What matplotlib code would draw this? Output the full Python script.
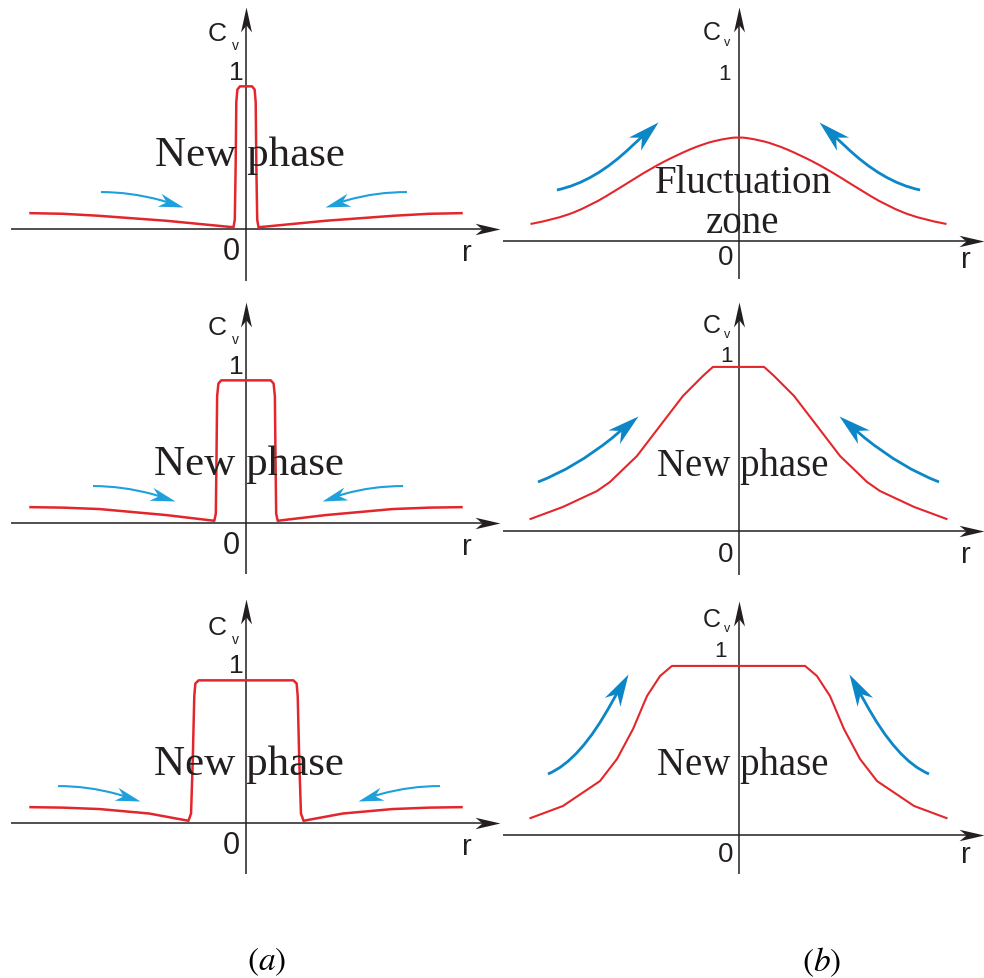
import numpy as np
import matplotlib
matplotlib.use("Agg")
import matplotlib.pyplot as plt
from matplotlib.path import Path
from matplotlib.patches import PathPatch
from matplotlib.markers import MarkerStyle
from matplotlib.transforms import Affine2D

plt.rcParams['mathtext.fontset'] = 'stix'

W, H, DPI = 984, 979, 100
AXIS_COLOR = '#231f20'
RED = '#e3262b'
BLUE_A = '#1ea0dc'
BLUE_B = '#0b86c7'
SANS = 'Liberation Sans'
SERIF = 'Liberation Serif'

# ---- C_v(r) half-profiles, listed from r = 0 outward (each profile is symmetric) ----
# column (a): sharp interface, new phase grows in width
a1_r = [0.0, 0.028, 0.040, 0.045, 0.048, 0.052, 0.058, 0.37, 0.69, 0.85, 1.0]
a1_c = [0.90, 0.90, 0.88, 0.80, 0.40, 0.06, 0.011, 0.052, 0.084, 0.096, 0.100]
a2_r = [0.0, 0.115, 0.128, 0.134, 0.137, 0.140, 0.147, 0.37, 0.68, 0.85, 1.0]
a2_c = [0.90, 0.90, 0.88, 0.80, 0.40, 0.06, 0.014, 0.050, 0.088, 0.097, 0.100]
a3_r = [0.0, 0.220, 0.235, 0.240, 0.247, 0.255, 0.267, 0.45, 0.68, 0.85, 1.0]
a3_c = [0.90, 0.90, 0.88, 0.80, 0.40, 0.06, 0.014, 0.060, 0.088, 0.097, 0.100]
# column (b): diffuse fluctuation grows into a new phase
b1_r = [0.0, 0.075, 0.171, 0.296, 0.425, 0.555, 0.714, 0.873, 1.0]
b1_c = [0.612, 0.600, 0.571, 0.506, 0.424, 0.324, 0.206, 0.129, 0.100]
b2_r = [0.0, 0.123, 0.171, 0.267, 0.363, 0.488, 0.618, 0.680, 0.844, 1.0]
b2_c = [0.927, 0.927, 0.876, 0.763, 0.616, 0.424, 0.277, 0.226, 0.136, 0.068]
b3_r = [0.0, 0.320, 0.377, 0.440, 0.507, 0.584, 0.666, 0.844, 1.0]
b3_c = [0.909, 0.909, 0.855, 0.747, 0.570, 0.409, 0.290, 0.156, 0.091]

# ---- flow arrows: (start, mid, neck, tip) points in (r, C_v) ----
a_arrow_c = [0.233, 0.221, 0.183, 0.139]
a1_left_r = [-0.673, -0.538, -0.399, -0.292]
a1_right_r = [0.747, 0.607, 0.473, 0.367]
a2_left_r = [-0.710, -0.575, -0.436, -0.329]
a2_right_r = [0.729, 0.589, 0.455, 0.353]
a3_left_r = [-0.872, -0.736, -0.599, -0.492]
a3_right_r = [0.900, 0.763, 0.626, 0.520]
# column (b) arrows: left one listed, right one is its mirror image
b1_arrow_r = [-0.873, -0.692, -0.512, -0.387]
b1_arrow_c = [0.300, 0.388, 0.559, 0.700]
b2_arrow_r = [-0.964, -0.786, -0.608, -0.483]
b2_arrow_c = [0.277, 0.379, 0.525, 0.650]
b3_arrow_r = [-0.916, -0.762, -0.608, -0.531]
b3_arrow_c = [0.328, 0.460, 0.715, 0.866]

y_label = 'C'
y_sub = 'v'
x_label = 'r'
tick_one = '1'
tick_zero = '0'


def mirror(r, c):
    r = np.asarray(r, float)
    c = np.asarray(c, float)
    return (np.concatenate([-r[::-1], r[1:]]),
            np.concatenate([c[::-1], c[1:]]))


fig = plt.figure(figsize=(W / DPI, H / DPI), dpi=DPI)
fig.patch.set_facecolor('white')


def make_panel(L, T, w, h, ox, oy, sx, sy):
    ax = fig.add_axes([L / W, 1 - (T + h) / H, w / W, h / H])
    ax.set_xlim((L - ox) / sx, (L + w - ox) / sx)
    ax.set_ylim((oy - (T + h)) / sy, (oy - T) / sy)
    ax.axis('off')
    return ax


def head(ax, base, tip, color, head_px, ratio, notch=0.72, z=5):
    d = ax.transData.transform([base, tip])
    ang = np.degrees(np.arctan2(d[1, 1] - d[0, 1], d[1, 0] - d[0, 0]))
    verts = [(0, 0), (-1, ratio), (-notch, 0), (-1, -ratio), (0, 0)]
    p = Path(verts, [Path.MOVETO, Path.LINETO, Path.LINETO, Path.LINETO, Path.CLOSEPOLY])
    ms = head_px * 72.0 / DPI * 2
    ax.plot([tip[0]], [tip[1]], linestyle='none',
            marker=MarkerStyle(p, transform=Affine2D().rotate_deg(ang)),
            ms=ms, mew=0, color=color, clip_on=False, zorder=z)


def flow_arrow(ax, rs, cs, color, lw, head_px, ratio):
    pts = np.column_stack([rs, cs]).astype(float)
    s, m, n, t = pts
    ctrl = 2 * m - (s + n) / 2
    inner = n + 0.5 * (t - n)
    path = Path([s, ctrl, n, inner], [Path.MOVETO, Path.CURVE3, Path.CURVE3, Path.LINETO])
    ax.add_patch(PathPatch(path, fill=False, edgecolor=color, lw=lw,
                           capstyle='butt', clip_on=False, zorder=3))
    head(ax, n, t, color, head_px, ratio, notch=0.7, z=4)


def smooth_profile(ax, rr, cc, color, lw):
    # quadratic B-spline style path: the listed points act as control points
    pts = np.column_stack([rr, cc])
    verts = [pts[0]]
    codes = [Path.MOVETO]
    for i in range(1, len(pts) - 1):
        end = (pts[i] + pts[i + 1]) / 2 if i < len(pts) - 2 else pts[i + 1]
        verts += [pts[i], end]
        codes += [Path.CURVE3, Path.CURVE3]
    ax.add_patch(PathPatch(Path(verts, codes), fill=False, edgecolor=color, lw=lw,
                           clip_on=False, zorder=3))


panels = [
    dict(box=(0, 0), o=(246, 230), s=(215.5, 158.5), prof=(a1_r, a1_c),
         xaxis=(-1.090, 1.179), yaxis=(-0.328, 1.400), col='a', smooth=False,
         arrows=[(a1_left_r, a_arrow_c), (a1_right_r, a_arrow_c)],
         text=[('New phase', 4, 64)]),
    dict(box=(0, 300), o=(246, 524), s=(215.5, 158.5), prof=(a2_r, a2_c),
         xaxis=(-1.090, 1.179), yaxis=(-0.322, 1.394), col='a', smooth=False,
         arrows=[(a2_left_r, a_arrow_c), (a2_right_r, a_arrow_c)],
         text=[('New phase', 2.5, 49)]),
    dict(box=(0, 600), o=(246, 824), s=(215.5, 158.5), prof=(a3_r, a3_c),
         xaxis=(-1.090, 1.179), yaxis=(-0.322, 1.413), col='a', smooth=False,
         arrows=[(a3_left_r, a_arrow_c), (a3_right_r, a_arrow_c)],
         text=[('New phase', 2.5, 49)]),
    dict(box=(492, 0), o=(738.5, 242), s=(208, 170), prof=(b1_r, b1_c),
         xaxis=(-1.132, 1.180), yaxis=(-0.224, 1.376), col='b', smooth=True,
         arrows=[(b1_arrow_r, b1_arrow_c), ([-v for v in b1_arrow_r], b1_arrow_c)],
         text=[('Fluctuation', 4.5, 49), ('zone', 4.5, 9)],
         lab=dict(C=(-27, 209), v=(-11.5, 199), one=-13.5, zero=(-12.5, -16), r=(227.5, -18))),
    dict(box=(492, 300), o=(738.5, 532), s=(208, 177), prof=(b2_r, b2_c),
         xaxis=(-1.132, 1.180), yaxis=(-0.249, 1.294), col='b', smooth=False,
         arrows=[(b2_arrow_r, b2_arrow_c), ([-v for v in b2_arrow_r], b2_arrow_c)],
         text=[('New phase', 4, 56)],
         lab=dict(C=(-27, 206), v=(-11.5, 197), one=-12, zero=(-12.5, -23), r=(227.5, -23))),
    dict(box=(492, 600), o=(738.5, 836), s=(208, 186), prof=(b3_r, b3_c),
         xaxis=(-1.132, 1.180), yaxis=(-0.210, 1.258), col='b', smooth=False,
         arrows=[(b3_arrow_r, b3_arrow_c), ([-v for v in b3_arrow_r], b3_arrow_c)],
         text=[('New phase', 4, 61)],
         lab=dict(C=(-27, 216), v=(-11.5, 207), one=-18.5, zero=(-12.5, -19), r=(227.5, -19))),
]

a_lab = dict(C=(-29, 196), v=(-11, 184), one=-9.5, zero=(-15, -22), r=(221, -23))

for p in panels:
    L, T = p['box']
    ox, oy = p['o']
    sx, sy = p['s']
    ax = make_panel(L, T, 492, 300, ox, oy, sx, sy)
    is_a = p['col'] == 'a'
    lab = a_lab if is_a else p['lab']

    # coordinate axes with arrow heads
    x0, x1 = p['xaxis']
    y0, y1 = p['yaxis']
    ax.plot([x0, x1 - 15 / sx], [0, 0], color=AXIS_COLOR, lw=1.1,
            solid_capstyle='butt', clip_on=False, zorder=2)
    ax.plot([0, 0], [y0, y1 - 15 / sy], color=AXIS_COLOR, lw=1.1,
            solid_capstyle='butt', clip_on=False, zorder=2)
    head(ax, (x1 - 0.1, 0), (x1, 0), AXIS_COLOR, 25, 0.23)
    head(ax, (0, y1 - 0.1), (0, y1), AXIS_COLOR, 25, 0.22)

    # concentration profile
    rr, cc = mirror(*p['prof'])
    if p['smooth']:
        smooth_profile(ax, rr, cc, RED, 1.5)
    else:
        ax.plot(rr, cc, color=RED, lw=1.8 if is_a else 1.5, solid_joinstyle='round',
                clip_on=False, zorder=3)

    # flow arrows
    for rs, cs in p['arrows']:
        if is_a:
            flow_arrow(ax, rs, cs, BLUE_A, 1.5, 25, 0.27)
        else:
            flow_arrow(ax, rs, cs, BLUE_B, 2.0, 32, 0.28)

    # axis labels
    ax.annotate(y_label, xy=(0, 0), xytext=lab['C'], textcoords='offset pixels',
                ha='center', va='center', fontsize=19 if is_a else 18,
                family=SANS, color=AXIS_COLOR)
    ax.annotate(y_sub, xy=(0, 0), xytext=lab['v'], textcoords='offset pixels',
                ha='center', va='center', fontsize=10 if is_a else 9,
                family=SANS, color=AXIS_COLOR)
    ax.annotate(tick_one, xy=(0, 1), xytext=(lab['one'], -1 if is_a else -2),
                textcoords='offset pixels', ha='center', va='center',
                fontsize=19 if is_a else 16, family=SANS, color=AXIS_COLOR)
    ax.annotate(tick_zero, xy=(0, 0), xytext=lab['zero'], textcoords='offset pixels',
                ha='center', va='center', fontsize=22 if is_a else 20,
                family=SANS, color=AXIS_COLOR)
    ax.annotate(x_label, xy=(0, 0), xytext=lab['r'], textcoords='offset pixels',
                ha='center', va='center', fontsize=21, family=SANS, color=AXIS_COLOR)

    # region annotation
    for s, dx, dy in p['text']:
        ax.annotate(s, xy=(0, 0), xytext=(dx, dy), textcoords='offset pixels',
                    ha='center', va='baseline', fontsize=31 if is_a else 28,
                    family=SERIF, color=AXIS_COLOR, zorder=6)

# column captions
fig.text(267 / W, 1 - 962 / H, r'$(a)$', ha='center', va='center', fontsize=24, color='black')
fig.text(822 / W, 1 - 962 / H, r'$(b)$', ha='center', va='center', fontsize=24, color='black')

fig.savefig('out.png', dpi=DPI, facecolor='white')
